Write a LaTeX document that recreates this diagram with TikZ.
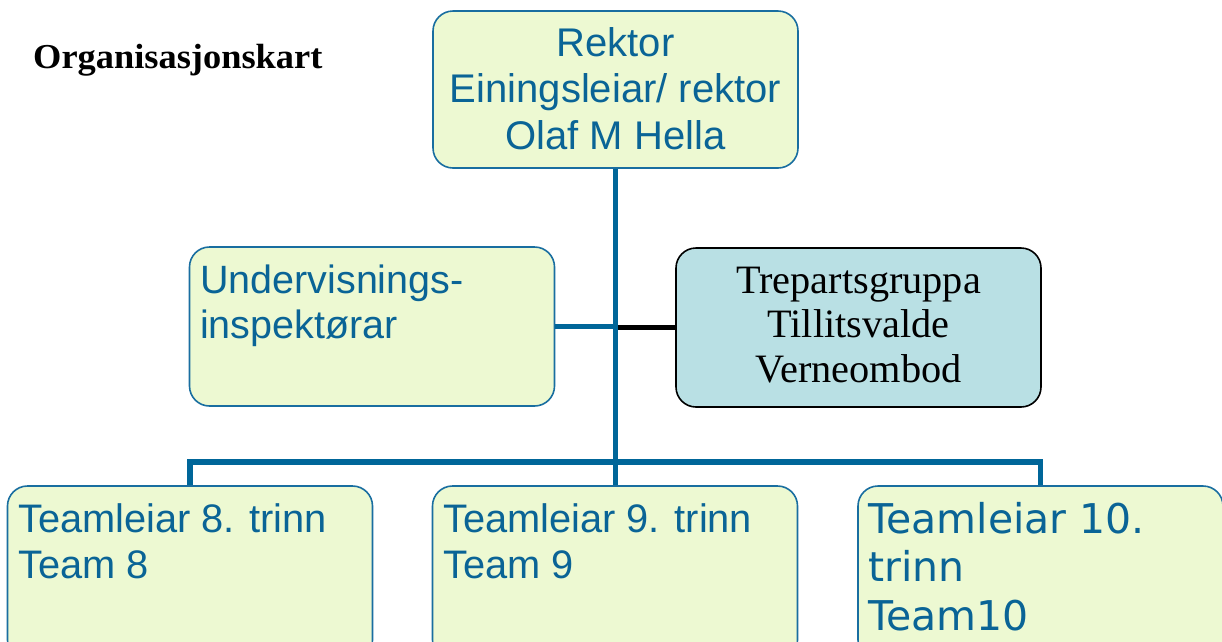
\documentclass[tikz,border=0pt]{standalone}
\usepackage{fontspec}
\setmainfont{Liberation Sans}
\newfontfamily\arialf{Liberation Sans}
\newfontfamily\timesf{Liberation Serif}
\newfontfamily\verdf{DejaVu Sans}
\newfontfamily\titlef[FakeStretch=1.04]{Liberation Serif}
\definecolor{lineblue}{RGB}{0,102,153}
\definecolor{textblue}{RGB}{10,100,150}
\definecolor{borderblue}{RGB}{25,110,160}
\definecolor{gfill}{RGB}{237,249,210}
\definecolor{bfill}{RGB}{185,224,228}
\tikzset{
  gbox/.style={draw=borderblue, line width=1.6pt, fill=gfill, rounded corners=20pt, inner sep=0pt, minimum width=365pt},
  bbox/.style={draw=black, line width=1.6pt, fill=bfill, rounded corners=20pt, inner sep=0pt, minimum width=365pt},
  conn/.style={draw=lineblue, line width=5.5pt},
  blackconn/.style={draw=black, line width=5pt},
  txt/.style={inner sep=0pt, text=textblue},
}
\begin{document}
\begin{tikzpicture}[x=1pt,y=-1pt]
\clip (0,0) rectangle (1222,641);
\fill[white] (0,0) rectangle (1222,641);

% title
\node[inner sep=0pt, anchor=base west] (title) at (33,68) {\titlef\bfseries\fontsize{35}{40}\selectfont Organisasjonskart};

% boxes
\node[gbox, minimum height=157pt] (rektor) at (615.5,89.5) {};
\node[gbox, minimum height=159pt] (under) at (372,326.5) {};
\node[bbox, minimum height=159pt] (trep) at (858.5,327.5) {};
\node[gbox, minimum height=174pt] (t8) at (190,573) {};
\node[gbox, minimum height=174pt] (t9) at (615,573) {};
\node[gbox, minimum height=174pt] (t10) at (1040.5,573) {};

% connectors
\draw[blackconn] (trep.west) -- (trep.west -| rektor.south);
\draw[conn] (under.east) -- (under.east -| rektor.south);
\draw[conn] (rektor.south) -- (rektor.south |- t9.north);
\coordinate (barL) at (190,462);
\draw[conn] (t8.north) -- (t8.north |- barL) -| (t10.north);

% texts
\node[txt, anchor=base] (rektortxt) at (615.5,56) {\parbox[t]{360pt}{\centering\arialf\fontsize{40}{46.5}\selectfont Rektor\\Einingsleiar/ rektor\\Olaf M Hella}};
\node[txt, anchor=base west] (undertxt) at (200,293) {\parbox[t]{350pt}{\raggedright\arialf\fontsize{39.5}{45.5}\selectfont Undervisnings-\\inspektørar}};
\node[inner sep=0pt, anchor=base] (treptxt) at (858.5,293) {\parbox[t]{360pt}{\centering\timesf\fontsize{40.3}{44.5}\selectfont Trepartsgruppa\\Tillitsvalde\\Verneombod}};
\node[txt, anchor=base west] (t8txt) at (18,532) {\parbox[t]{350pt}{\raggedright\arialf\fontsize{39.8}{46}\selectfont Teamleiar 8. trinn\\Team 8}};
\node[txt, anchor=base west] (t9txt) at (443,532) {\parbox[t]{350pt}{\raggedright\arialf\fontsize{39.8}{46}\selectfont Teamleiar 9. trinn\\Team 9}};
\node[txt, anchor=base west] (t10txt) at (868,533) {\parbox[t]{350pt}{\raggedright\verdf\fontsize{41}{48.5}\selectfont Teamleiar 10.\\trinn\\Team10}};
\end{tikzpicture}
\end{document}
